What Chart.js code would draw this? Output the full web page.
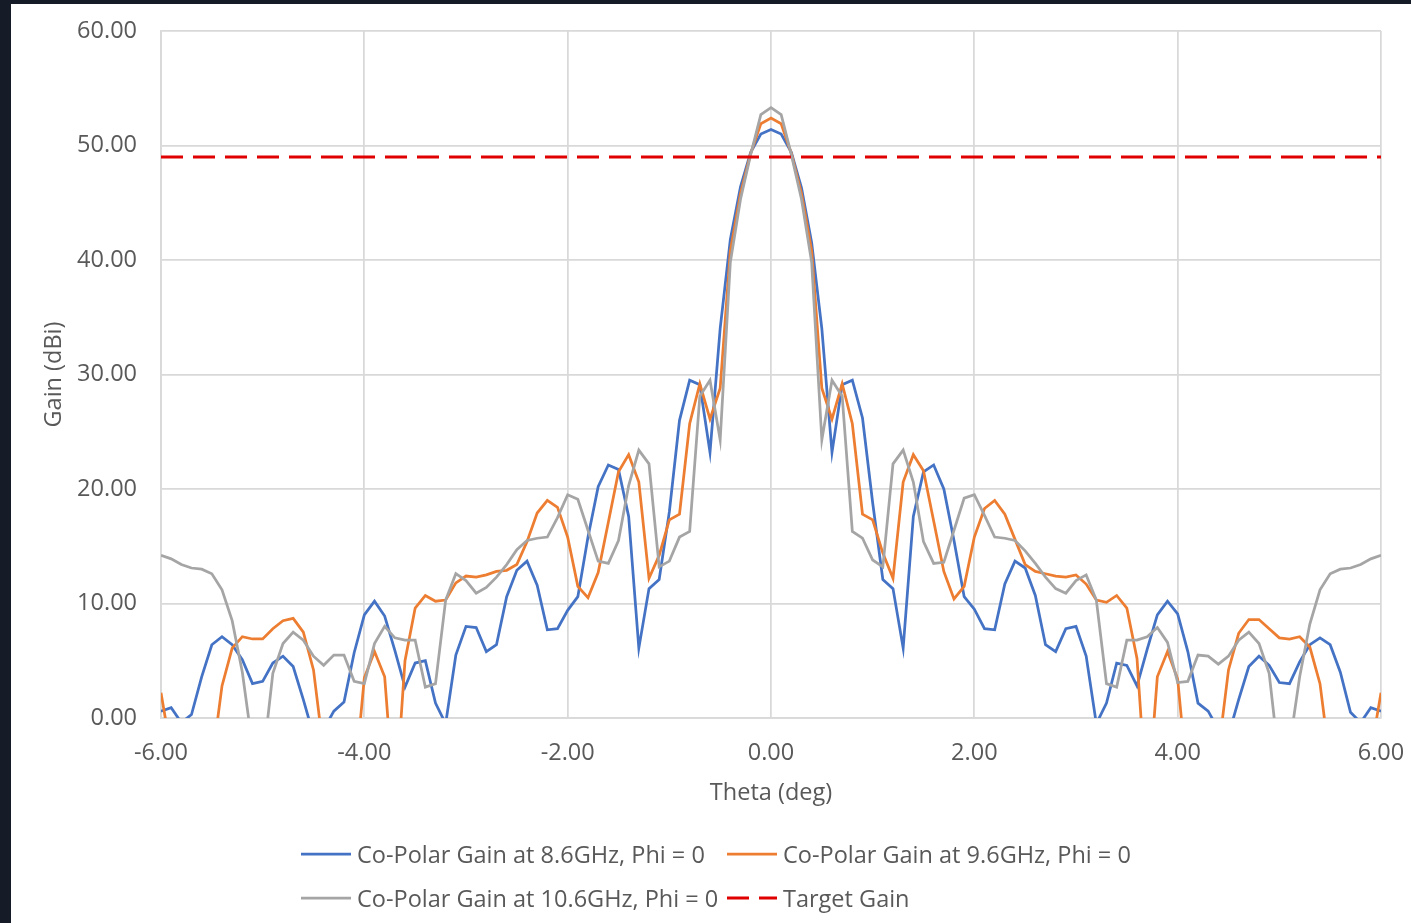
<!DOCTYPE html>
<html><head><meta charset="utf-8">
<script src="https://cdn.jsdelivr.net/npm/chart.js@4.4.1/dist/chart.umd.min.js"></script>
<style>
html,body{margin:0;padding:0;background:#151c28;width:1411px;height:923px;overflow:hidden;font-family:"Open Sans",sans-serif;}
#panel{position:absolute;left:11px;top:4px;width:1400px;height:919px;background:#ffffff;}
#c{position:absolute;left:0;top:0;}
.leg{position:absolute;display:flex;align-items:center;height:30px;color:#595959;font-size:23.5px;white-space:nowrap;font-family:"Open Sans",sans-serif;}
.leg svg{margin-right:6px;display:block;}
</style></head><body>
<div id="panel"></div>
<canvas id="c" width="1411" height="923"></canvas>
<div id="legend"></div>
<script>
const theta = [-6.0,-5.9,-5.8,-5.7,-5.6,-5.5,-5.4,-5.3,-5.2,-5.1,-5.0,-4.9,-4.8,-4.7,-4.6,-4.5,-4.4,-4.3,-4.2,-4.1,
-4.0,-3.9,-3.8,-3.7,-3.6,-3.5,-3.4,-3.3,-3.2,-3.1,-3.0,-2.9,-2.8,-2.7,-2.6,-2.5,-2.4,-2.3,-2.2,-2.1,
-2.0,-1.9,-1.8,-1.7,-1.6,-1.5,-1.4,-1.3,-1.2,-1.1,-1.0,-0.9,-0.8,-0.7,-0.6,-0.5,-0.4,-0.3,-0.2,-0.1,
0.0,0.1,0.2,0.3,0.4,0.5,0.6,0.7,0.8,0.9,1.0,1.1,1.2,1.3,1.4,1.5,1.6,1.7,1.8,1.9,2.0,
2.1,2.2,2.3,2.4,2.5,2.6,2.7,2.8,2.9,3.0,3.1,3.2,3.3,3.4,3.5,3.6,3.7,3.8,3.9,4.0,
4.1,4.2,4.3,4.4,4.5,4.6,4.7,4.8,4.9,5.0,5.1,5.2,5.3,5.4,5.5,5.6,5.7,5.8,5.9,6.0];

const gain86 = [0.6,0.9,-0.4,0.3,3.6,6.4,7.1,6.4,5.1,3.0,3.2,4.8,5.4,4.5,1.6,-1.5,-1.0,0.6,1.4,5.7,
9.0,10.2,8.9,5.9,2.7,4.8,5.0,1.3,-0.5,5.5,8.0,7.9,5.8,6.4,10.6,12.9,13.7,11.6,7.7,7.8,
9.4,10.6,15.8,20.2,22.1,21.7,17.6,6.1,11.3,12.1,18.0,26.0,29.5,29.1,23.2,34.0,41.8,46.4,49.4,51.0,
51.4,
51.0,49.4,46.3,41.5,34.0,23.2,29.1,29.5,26.2,18.8,12.1,11.3,6.1,17.6,21.5,22.1,20.0,15.5,10.6,9.5,
7.8,7.7,11.7,13.7,13.1,10.7,6.4,5.8,7.8,8.0,5.4,-0.5,1.3,4.8,4.6,2.8,6.0,9.0,10.2,9.1,
5.8,1.3,0.6,-1.0,-1.5,1.6,4.5,5.4,4.6,3.1,3.0,4.9,6.4,7.0,6.4,4.0,0.5,-0.4,0.9,0.6];

const gain96 = [2.2,-3,-8,-12,-10,-4,2.8,6.1,7.1,6.9,6.9,7.8,8.5,8.7,7.5,4.2,-3,-10,-12,-6,
3.5,5.8,3.6,-8,5.0,9.6,10.7,10.2,10.3,11.8,12.4,12.3,12.5,12.8,12.9,13.4,15.4,17.9,19.0,18.4,
15.8,11.5,10.5,12.7,17.1,21.5,23.0,20.6,12.2,14.2,17.3,17.8,25.7,29.2,26.1,28.8,40.8,45.8,49.3,51.9,
52.4,
51.9,49.3,45.8,40.8,28.8,26.1,29.2,25.7,17.8,17.3,14.4,12.2,20.6,23.0,21.6,17.2,12.8,10.4,11.5,15.8,
18.3,19.0,17.8,15.6,13.4,12.8,12.6,12.4,12.3,12.5,11.7,10.3,10.1,10.7,9.6,5.2,-8,3.6,5.8,3.4,
-6,-12,-10,-3,4.2,7.4,8.6,8.6,7.8,7.0,6.9,7.1,6.2,3.0,-4,-10,-12,-8,-3,2.2];

const gain106 = [14.2,13.9,13.4,13.1,13.0,12.6,11.2,8.5,4.0,-2.5,-4,3.9,6.5,7.5,6.8,5.4,4.6,5.5,5.5,3.2,
3.0,6.5,8.0,7.0,6.8,6.8,2.7,3.0,10.3,12.6,12.0,10.9,11.4,12.3,13.4,14.7,15.5,15.7,15.8,17.5,
19.5,19.1,16.4,13.7,13.5,15.5,20.3,23.4,22.2,13.2,13.7,15.8,16.3,28.1,29.5,24.3,39.8,45.3,49.2,52.7,
53.3,
52.7,49.2,45.3,39.8,24.3,29.5,28.1,16.3,15.7,13.8,13.2,22.2,23.4,20.6,15.4,13.5,13.6,16.4,19.2,19.5,
17.7,15.8,15.7,15.5,14.6,13.5,12.3,11.3,10.9,12.0,12.5,10.3,3.0,2.7,6.8,6.8,7.1,7.9,6.6,3.1,
3.2,5.5,5.4,4.7,5.4,6.8,7.5,6.5,3.9,-4,-2.5,3.6,8.2,11.2,12.6,13.0,13.1,13.4,13.9,14.2];

const targetTheta = [-6, 6];
const targetGain = 49.0;

const seriesLabels = ['Co-Polar Gain at 8.6GHz, Phi = 0','Co-Polar Gain at 9.6GHz, Phi = 0','Co-Polar Gain at 10.6GHz, Phi = 0','Target Gain'];
const xTickValues = [-6,-4,-2,0,2,4,6];
const xTickLabels = ['-6.00','-4.00','-2.00','0.00','2.00','4.00','6.00'];
const yTickValues = [0,10,20,30,40,50,60];
const yTickLabels = ['0.00','10.00','20.00','30.00','40.00','50.00','60.00'];

const FONT = '"Open Sans", sans-serif';
const FS = 23.5;
const TXT = '#595959';
const GRID = '#d9d9d9';

const pts = ys => theta.map((t,i)=>({x:t,y:ys[i]}));

const datasets = [
  {label:seriesLabels[0], data:pts(gain86), borderColor:'#4472C4', backgroundColor:'#4472C4', borderWidth:2.75, order:3},
  {label:seriesLabels[1], data:pts(gain96), borderColor:'#ED7D31', backgroundColor:'#ED7D31', borderWidth:2.75, order:2},
  {label:seriesLabels[2], data:pts(gain106), borderColor:'#A5A5A5', backgroundColor:'#A5A5A5', borderWidth:2.75, order:1},
  {label:seriesLabels[3], data:targetTheta.map(t=>({x:t,y:targetGain})), borderColor:'#E00000', backgroundColor:'#E00000', borderWidth:3, borderDash:[22,10], order:0}
];
datasets.forEach(d=>{d.pointRadius=0; d.pointHoverRadius=0; d.tension=0; d.fill=false;});

const chart = new Chart(document.getElementById('c'), {
  type:'line',
  data:{datasets},
  options:{
    responsive:false, animation:false, devicePixelRatio:1,
    layout:{padding:{left:40, top:31, right:30, bottom:116}},
    plugins:{legend:{display:false}, tooltip:{enabled:false}},
    scales:{
      x:{type:'linear', min:-6, max:6,
        afterBuildTicks:s=>{s.ticks = xTickValues.map(v=>({value:v}));},
        ticks:{padding:21, color:TXT, font:{family:FONT, size:FS}, maxRotation:0,
          callback:v=>{const i=xTickValues.indexOf(v); return i>=0?xTickLabels[i]:'';}},
        grid:{color:GRID, lineWidth:1.75, drawTicks:false},
        border:{color:GRID, width:1.75},
        title:{display:true, text:'Theta (deg)', color:TXT, font:{family:FONT, size:FS}, padding:0},
        afterFit:s=>{s.height=89; s.paddingLeft=0; s.paddingRight=0;}
      },
      y:{type:'linear', min:0, max:60,
        afterBuildTicks:s=>{s.ticks = yTickValues.map(v=>({value:v}));},
        ticks:{padding:24, color:TXT, font:{family:FONT, size:FS},
          callback:v=>{const i=yTickValues.indexOf(v); return i>=0?yTickLabels[i]:'';}},
        grid:{color:GRID, lineWidth:1.75, drawTicks:false},
        border:{color:GRID, width:1.75},
        title:{display:true, text:'Gain (dBi)', color:TXT, font:{family:FONT, size:FS}, padding:0},
        afterFit:s=>{s.width=121; s.paddingTop=0; s.paddingBottom=0;}
      }
    }
  }
});

// HTML legend built from the chart's datasets, laid out in two columns
const legendCols = [301, 727];
const legendRows = [854, 898];
const legendEl = document.getElementById('legend');
chart.data.datasets.forEach((d,i)=>{
  const col = i%2, row = Math.floor(i/2);
  const item = document.createElement('div');
  item.className = 'leg';
  item.style.left = legendCols[col]+'px';
  item.style.top = (legendRows[row]-15)+'px';
  const dash = d.borderDash ? d.borderDash.join(' ') : 'none';
  item.innerHTML = '<svg width="50" height="8"><line x1="0" y1="4" x2="50" y2="4" stroke="'+d.borderColor+'" stroke-width="'+d.borderWidth+'" stroke-dasharray="'+dash+'"/></svg>';
  const span = document.createElement('span');
  span.textContent = d.label;
  item.appendChild(span);
  legendEl.appendChild(item);
});
</script>
</body></html>
